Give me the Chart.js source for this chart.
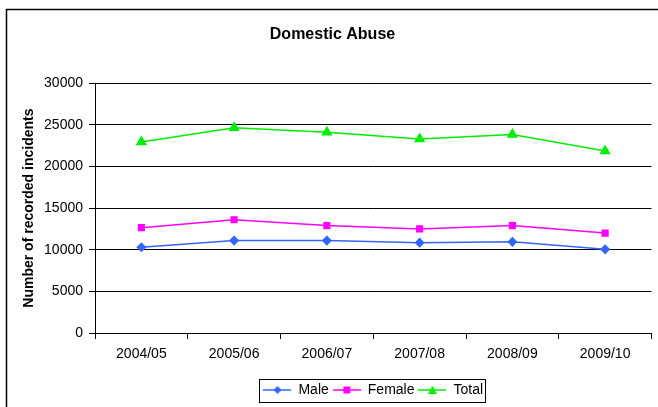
<!DOCTYPE html>
<html>
<head>
<meta charset="utf-8">
<script src="https://cdn.jsdelivr.net/npm/chart.js@4"></script>
<style>
  body { margin: 0; background: #fff; }
  canvas { display: block; }
</style>
</head>
<body>
<canvas id="abuseChart" width="658" height="407"></canvas>
<script>
const years = ['2004/05', '2005/06', '2006/07', '2007/08', '2008/09', '2009/10'];
const male = [10300, 11100, 11100, 10850, 10950, 10050];
const female = [12650, 13600, 12900, 12500, 12900, 12000];
const total = [22950, 24650, 24100, 23300, 23850, 21850];
const yTicks = [0, 5000, 10000, 15000, 20000, 25000, 30000];

Chart.defaults.font.family = '"Liberation Sans", Arial, sans-serif';
Chart.defaults.color = '#000';

// little line + marker swatch for the legend
function swatch(color, style) {
    const c = document.createElement('canvas');
    c.width = 28;
    c.height = 12;
    const g = c.getContext('2d');
    g.strokeStyle = color;
    g.fillStyle = color;
    g.lineWidth = 1.5;
    g.beginPath();
    g.moveTo(0, 6);
    g.lineTo(28, 6);
    g.stroke();
    g.beginPath();
    if (style === 'diamond') {
        g.moveTo(14, 2); g.lineTo(18, 6); g.lineTo(14, 10); g.lineTo(10, 6);
    } else if (style === 'square') {
        g.rect(10.5, 2.5, 7, 7);
    } else {
        g.moveTo(14, 1.5); g.lineTo(18.5, 10); g.lineTo(9.5, 10);
    }
    g.closePath();
    g.fill();
    return c;
}

const frame = {
    id: 'frame',
    afterLayout(chart) {
        // centre the legend under the plot instead of the whole canvas
        const lg = chart.legend;
        lg.left = chart.chartArea.left;
        lg.right = chart.chartArea.right;
        lg.width = lg.right - lg.left;
    },
    afterDraw(chart) {
        const ctx = chart.ctx;
        ctx.save();
        ctx.strokeStyle = '#000';
        ctx.lineWidth = 1.5;
        ctx.beginPath();
        ctx.moveTo(6.5, 407);
        ctx.lineTo(6.5, 9.5);
        ctx.lineTo(658, 9.5);
        ctx.stroke();

        // box round the legend items
        const boxes = chart.legend.legendHitBoxes;
        if (boxes && boxes.length) {
            let x0 = Infinity, x1 = -Infinity, y0 = Infinity, y1 = -Infinity;
            boxes.forEach(b => {
                x0 = Math.min(x0, b.left);
                x1 = Math.max(x1, b.left + b.width);
                y0 = Math.min(y0, b.top);
                y1 = Math.max(y1, b.top + b.height);
            });
            ctx.lineWidth = 1;
            ctx.strokeRect(Math.round(x0) - 3.5, Math.round(y0) - 3.5,
                           Math.round(x1 - x0) + 6, Math.round(y1 - y0) + 9);
        }
        ctx.restore();
    }
};

const chart = new Chart(document.getElementById('abuseChart'), {
    type: 'line',
    data: {
        labels: years,
        datasets: [{
            label: 'Male',
            data: male,
            borderColor: '#3366ff',
            backgroundColor: '#3366ff',
            borderWidth: 1.5,
            pointStyle: 'rectRot',
            pointRadius: 4,
            legendStyle: swatch('#3366ff', 'diamond')
        }, {
            label: 'Female',
            data: female,
            borderColor: '#ff00ff',
            backgroundColor: '#ff00ff',
            borderWidth: 1.5,
            pointStyle: 'rect',
            pointRadius: 4,
            legendStyle: swatch('#ff00ff', 'square')
        }, {
            label: 'Total',
            data: total,
            borderColor: '#00ee00',
            backgroundColor: '#00ee00',
            borderWidth: 1.5,
            pointStyle: 'triangle',
            pointRadius: 5,
            legendStyle: swatch('#00ee00', 'triangle')
        }]
    },
    options: {
        responsive: false,
        animation: false,
        layout: { padding: { left: 10, right: 3, top: 11, bottom: 0 } },
        plugins: {
            title: {
                display: true,
                text: 'Domestic Abuse',
                font: { size: 16, weight: 'bold' },
                padding: { top: 14, bottom: 39 }
            },
            legend: {
                position: 'bottom',
                labels: {
                    usePointStyle: true,
                    pointStyleWidth: 28,
                    font: { size: 14 },
                    padding: 4,
                    generateLabels(chart) {
                        return chart.data.datasets.map((ds, i) => ({
                            text: ds.label,
                            pointStyle: ds.legendStyle,
                            fillStyle: ds.borderColor,
                            strokeStyle: ds.borderColor,
                            lineWidth: 0,
                            datasetIndex: i,
                            fontColor: '#000'
                        }));
                    }
                }
            },
            tooltip: { enabled: false }
        },
        scales: {
            x: {
                offset: true,
                grid: {
                    offset: true,
                    drawOnChartArea: false,
                    color: '#000',
                    tickLength: 6
                },
                border: { color: '#000' },
                ticks: { font: { size: 14 }, padding: 7, maxRotation: 0 },
                afterFit(scale) { scale.height = 46; }
            },
            y: {
                min: 0,
                max: 30000,
                afterBuildTicks(scale) { scale.ticks = yTicks.map(v => ({ value: v })); },
                grid: { color: '#000', tickLength: 6 },
                border: { color: '#000' },
                ticks: { font: { size: 14 }, padding: 6, callback: v => String(v) },
                title: {
                    display: true,
                    text: 'Number of recorded incidents',
                    font: { size: 14, weight: 'bold' },
                    padding: { top: 11, bottom: 4 }
                },
                afterFit(scale) { scale.width = 85; }
            }
        }
    },
    plugins: [frame]
});
</script>
</body>
</html>
